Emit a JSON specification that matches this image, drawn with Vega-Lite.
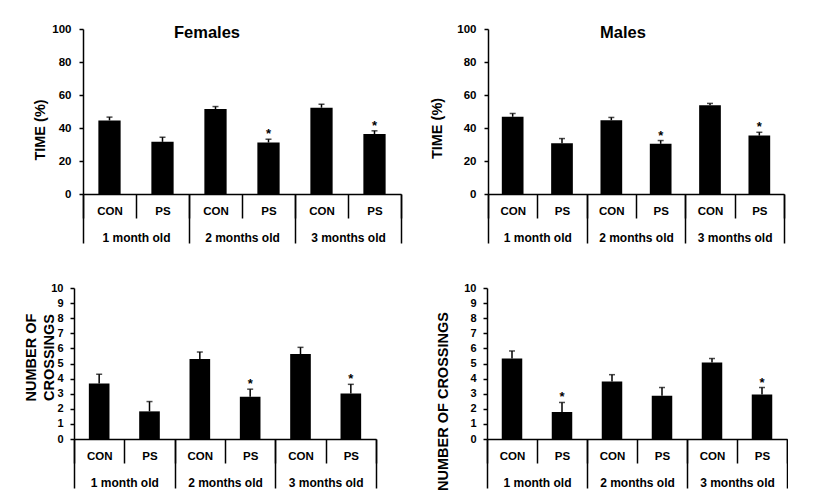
{
  "$schema": "https://vega.github.io/schema/vega-lite/v6.json",
  "background": "white",
  "padding": {"left": 22, "top": 23, "right": 0, "bottom": 0},
  "datasets": {
    "ft": [
      {"age": "1 month old", "key": "1 month old|CON", "value": 44.6, "upper": 46.6, "sig": false},
      {"age": "1 month old", "key": "1 month old|PS", "value": 31.6, "upper": 34.4, "sig": false},
      {"age": "2 months old", "key": "2 months old|CON", "value": 51.5, "upper": 53.0, "sig": false},
      {"age": "2 months old", "key": "2 months old|PS", "value": 31.2, "upper": 33.2, "sig": true},
      {"age": "3 months old", "key": "3 months old|CON", "value": 52.3, "upper": 54.4, "sig": false},
      {"age": "3 months old", "key": "3 months old|PS", "value": 36.3, "upper": 38.3, "sig": true}
    ],
    "mt": [
      {"age": "1 month old", "key": "1 month old|CON", "value": 46.8, "upper": 48.8, "sig": false},
      {"age": "1 month old", "key": "1 month old|PS", "value": 30.8, "upper": 33.6, "sig": false},
      {"age": "2 months old", "key": "2 months old|CON", "value": 44.7, "upper": 46.4, "sig": false},
      {"age": "2 months old", "key": "2 months old|PS", "value": 30.4, "upper": 32.4, "sig": true},
      {"age": "3 months old", "key": "3 months old|CON", "value": 53.8, "upper": 54.9, "sig": false},
      {"age": "3 months old", "key": "3 months old|PS", "value": 35.4, "upper": 37.4, "sig": true}
    ],
    "fc": [
      {"age": "1 month old", "key": "1 month old|CON", "value": 3.68, "upper": 4.29, "sig": false},
      {"age": "1 month old", "key": "1 month old|PS", "value": 1.83, "upper": 2.48, "sig": false},
      {"age": "2 months old", "key": "2 months old|CON", "value": 5.29, "upper": 5.76, "sig": false},
      {"age": "2 months old", "key": "2 months old|PS", "value": 2.79, "upper": 3.3, "sig": true},
      {"age": "3 months old", "key": "3 months old|CON", "value": 5.63, "upper": 6.07, "sig": false},
      {"age": "3 months old", "key": "3 months old|PS", "value": 3.01, "upper": 3.62, "sig": true}
    ],
    "mc": [
      {"age": "1 month old", "key": "1 month old|CON", "value": 5.33, "upper": 5.83, "sig": false},
      {"age": "1 month old", "key": "1 month old|PS", "value": 1.79, "upper": 2.42, "sig": true},
      {"age": "2 months old", "key": "2 months old|CON", "value": 3.8, "upper": 4.26, "sig": false},
      {"age": "2 months old", "key": "2 months old|PS", "value": 2.86, "upper": 3.41, "sig": false},
      {"age": "3 months old", "key": "3 months old|CON", "value": 5.07, "upper": 5.33, "sig": false},
      {"age": "3 months old", "key": "3 months old|PS", "value": 2.95, "upper": 3.41, "sig": true}
    ]
  },
  "spacing": 38,
  "vconcat": [
    {
      "spacing": 27,
      "hconcat": [
        {
          "width": 318, "height": 165,
          "title": {"text": "Females", "dx": -35},
          "data": {"name": "ft"},
          "layer": [
            {
              "encoding": {"x": {"field": "key", "type": "nominal", "scale": {"type": "band", "paddingInner": 0, "paddingOuter": 0},
                "axis": {"title": null, "orient": "bottom", "tickBand": "extent", "tickSize": 24, "labelExpr": "split(datum.label, '|')[1]", "labelAngle": 0, "labelBaseline": "middle", "labelPadding": -7, "labelFontSize": 11.5}}},
              "layer": [
                {"mark": {"type": "bar", "color": "black", "width": {"band": 0.42}},
                 "encoding": {"y": {"field": "value", "type": "quantitative", "scale": {"domain": [0, 100], "nice": false},
                   "axis": {"title": "TIME (%)", "tickCount": 5, "labelOverlap": false, "labelSeparation": 0, "titleX": -36, "titleY": 100.5, "labelFontSize": 11.5, "labelPadding": 8}}}},
                {"mark": {"type": "rule", "color": "black", "strokeWidth": 1.5},
                 "encoding": {"y": {"field": "value", "type": "quantitative"}, "y2": {"field": "upper"}}},
                {"mark": {"type": "tick", "color": "black", "orient": "horizontal", "size": 6, "thickness": 1.5},
                 "encoding": {"y": {"field": "upper", "type": "quantitative"}}},
                {"transform": [{"filter": "datum.sig"}],
                 "mark": {"type": "text", "text": "*", "fontSize": 13, "fontWeight": "bold", "baseline": "alphabetic", "dy": -1, "color": "black"},
                 "encoding": {"y": {"field": "upper", "type": "quantitative"}}}
              ]
            },
            {
              "mark": {"type": "rule", "opacity": 0},
              "encoding": {"x": {"field": "age", "type": "nominal", "scale": {"type": "band", "paddingInner": 0, "paddingOuter": 0},
                "axis": {"title": null, "orient": "bottom", "tickBand": "extent", "tickSize": 49, "domain": false, "labelAngle": 0, "labelBaseline": "middle", "labelPadding": -6, "labelFontSize": 12}}}
            }
          ],
          "resolve": {"scale": {"x": "independent"}}
        },
        {
          "width": 296, "height": 165,
          "title": {"text": "Males", "dx": -13},
          "data": {"name": "mt"},
          "layer": [
            {
              "encoding": {"x": {"field": "key", "type": "nominal", "scale": {"type": "band", "paddingInner": 0, "paddingOuter": 0},
                "axis": {"title": null, "orient": "bottom", "tickBand": "extent", "tickSize": 24, "labelExpr": "split(datum.label, '|')[1]", "labelAngle": 0, "labelBaseline": "middle", "labelPadding": -7, "labelFontSize": 11.5}}},
              "layer": [
                {"mark": {"type": "bar", "color": "black", "width": {"band": 0.44}},
                 "encoding": {"y": {"field": "value", "type": "quantitative", "scale": {"domain": [0, 100], "nice": false},
                   "axis": {"title": "TIME (%)", "tickCount": 5, "labelOverlap": false, "labelSeparation": 0, "titleX": -44, "titleY": 99, "labelFontSize": 11.5, "labelPadding": 8}}}},
                {"mark": {"type": "rule", "color": "black", "strokeWidth": 1.5},
                 "encoding": {"y": {"field": "value", "type": "quantitative"}, "y2": {"field": "upper"}}},
                {"mark": {"type": "tick", "color": "black", "orient": "horizontal", "size": 6, "thickness": 1.5},
                 "encoding": {"y": {"field": "upper", "type": "quantitative"}}},
                {"transform": [{"filter": "datum.sig"}],
                 "mark": {"type": "text", "text": "*", "fontSize": 13, "fontWeight": "bold", "baseline": "alphabetic", "dy": -1, "color": "black"},
                 "encoding": {"y": {"field": "upper", "type": "quantitative"}}}
              ]
            },
            {
              "mark": {"type": "rule", "opacity": 0},
              "encoding": {"x": {"field": "age", "type": "nominal", "scale": {"type": "band", "paddingInner": 0, "paddingOuter": 0},
                "axis": {"title": null, "orient": "bottom", "tickBand": "extent", "tickSize": 49, "domain": false, "labelAngle": 0, "labelBaseline": "middle", "labelPadding": -6, "labelFontSize": 12}}}
            }
          ],
          "resolve": {"scale": {"x": "independent"}}
        }
      ]
    },
    {
      "spacing": 49,
      "hconcat": [
        {
          "width": 293, "height": 151,
          "data": {"name": "fc"},
          "layer": [
            {
              "encoding": {"x": {"field": "key", "type": "nominal", "scale": {"type": "band", "paddingInner": 0, "paddingOuter": 0, "range": [-9, 293]},
                "axis": {"title": null, "orient": "bottom", "tickBand": "extent", "tickSize": 24, "labelExpr": "split(datum.label, '|')[1]", "labelAngle": 0, "labelBaseline": "middle", "labelPadding": -7, "labelFontSize": 11.5}}},
              "layer": [
                {"mark": {"type": "bar", "color": "black", "width": {"band": 0.41}},
                 "encoding": {"y": {"field": "value", "type": "quantitative", "scale": {"domain": [0, 10], "nice": false},
                   "axis": {"title": "NUMBER OF", "offset": 9, "tickCount": 10, "labelOverlap": false, "labelSeparation": 0, "titleX": -36, "titleY": 69, "labelFontSize": 11, "labelPadding": 7}}}},
                {"mark": {"type": "rule", "color": "black", "strokeWidth": 1.5},
                 "encoding": {"y": {"field": "value", "type": "quantitative"}, "y2": {"field": "upper"}}},
                {"mark": {"type": "tick", "color": "black", "orient": "horizontal", "size": 6, "thickness": 1.5},
                 "encoding": {"y": {"field": "upper", "type": "quantitative"}}},
                {"transform": [{"filter": "datum.sig"}],
                 "mark": {"type": "text", "text": "*", "fontSize": 13, "fontWeight": "bold", "baseline": "alphabetic", "dy": -1, "color": "black"},
                 "encoding": {"y": {"field": "upper", "type": "quantitative"}}}
              ]
            },
            {
              "mark": {"type": "point", "opacity": 0},
              "encoding": {
                "x": {"field": "age", "type": "nominal", "scale": {"type": "band", "paddingInner": 0, "paddingOuter": 0, "range": [-9, 293]},
                  "axis": {"title": null, "orient": "bottom", "tickBand": "extent", "tickSize": 49, "domain": false, "labelAngle": 0, "labelBaseline": "middle", "labelPadding": -6, "labelFontSize": 12}},
                "y": {"field": "value", "type": "quantitative", "scale": {"domain": [0, 10], "nice": false},
                  "axis": {"orient": "left", "offset": 9, "title": "CROSSINGS", "labels": false, "ticks": false, "domain": false, "titleX": -18, "titleY": 69}}
              }
            }
          ],
          "resolve": {"scale": {"x": "independent", "y": "independent"}}
        },
        {
          "width": 300, "height": 151,
          "data": {"name": "mc"},
          "layer": [
            {
              "encoding": {"x": {"field": "key", "type": "nominal", "scale": {"type": "band", "paddingInner": 0, "paddingOuter": 0},
                "axis": {"title": null, "orient": "bottom", "tickBand": "extent", "tickSize": 24, "labelExpr": "split(datum.label, '|')[1]", "labelAngle": 0, "labelBaseline": "middle", "labelPadding": -7, "labelFontSize": 11.5}}},
              "layer": [
                {"mark": {"type": "bar", "color": "black", "width": {"band": 0.41}},
                 "encoding": {"y": {"field": "value", "type": "quantitative", "scale": {"domain": [0, 10], "nice": false},
                   "axis": {"title": "NUMBER OF CROSSINGS", "tickCount": 10, "labelOverlap": false, "labelSeparation": 0, "titleX": -37, "titleY": 113, "labelFontSize": 11, "labelPadding": 7}}}},
                {"mark": {"type": "rule", "color": "black", "strokeWidth": 1.5},
                 "encoding": {"y": {"field": "value", "type": "quantitative"}, "y2": {"field": "upper"}}},
                {"mark": {"type": "tick", "color": "black", "orient": "horizontal", "size": 6, "thickness": 1.5},
                 "encoding": {"y": {"field": "upper", "type": "quantitative"}}},
                {"transform": [{"filter": "datum.sig"}],
                 "mark": {"type": "text", "text": "*", "fontSize": 13, "fontWeight": "bold", "baseline": "alphabetic", "dy": -1, "color": "black"},
                 "encoding": {"y": {"field": "upper", "type": "quantitative"}}}
              ]
            },
            {
              "mark": {"type": "rule", "opacity": 0},
              "encoding": {"x": {"field": "age", "type": "nominal", "scale": {"type": "band", "paddingInner": 0, "paddingOuter": 0},
                "axis": {"title": null, "orient": "bottom", "tickBand": "extent", "tickSize": 49, "domain": false, "labelAngle": 0, "labelBaseline": "middle", "labelPadding": -6, "labelFontSize": 12}}}
            }
          ],
          "resolve": {"scale": {"x": "independent"}}
        }
      ]
    }
  ],
  "config": {
    "view": {"stroke": null},
    "font": "Liberation Sans",
    "axis": {"grid": false, "domainColor": "black", "domainWidth": 1.5, "tickColor": "black", "tickWidth": 1.5, "labelColor": "black", "labelFont": "Liberation Sans", "labelFontWeight": "bold", "titleColor": "black", "titleFont": "Liberation Sans", "titleFontWeight": "bold", "labelOverlap": false},
    "axisY": {"tickSize": 4, "titleFontSize": 14.5, "titleBaseline": "bottom", "labelOverlap": false},
    "title": {"font": "Liberation Sans", "fontSize": 16.5, "fontWeight": "bold", "color": "black", "frame": "group", "anchor": "middle", "baseline": "alphabetic", "offset": -18}
  }
}
